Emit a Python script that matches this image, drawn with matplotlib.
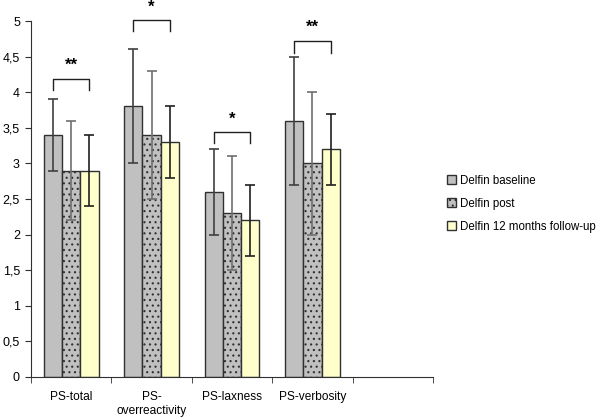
import matplotlib
matplotlib.use("Agg")
import matplotlib.pyplot as plt
import numpy as np
from matplotlib.ticker import FuncFormatter, MultipleLocator

categories = ["PS-total", "PS-\noverreactivity", "PS-laxness", "PS-verbosity", ""]
series = ["Delfin baseline", "Delfin post", "Delfin 12 months follow-up"]
baseline = [3.4, 3.8, 2.6, 3.6]
baseline_lo = [2.9, 3.0, 2.0, 2.7]
baseline_hi = [3.9, 4.6, 3.2, 4.5]
post = [2.9, 3.4, 2.3, 3.0]
post_lo = [2.2, 2.5, 1.5, 2.0]
post_hi = [3.6, 4.3, 3.1, 4.0]
follow = [2.9, 3.3, 2.2, 3.2]
follow_lo = [2.4, 2.8, 1.7, 2.7]
follow_hi = [3.4, 3.8, 2.7, 3.7]
sig_labels = ["**", "*", "*", "**"]
bracket_top = [4.19, 5.01, 3.44, 4.72]
bracket_end = [4.03, 4.86, 3.29, 4.55]

plt.rcParams['font.family'] = ['Liberation Sans', 'DejaVu Sans']
plt.rcParams['hatch.linewidth'] = 0.8

fig = plt.figure(figsize=(6, 4.2), dpi=100)
ax = fig.add_axes([0.0517, 0.1024, 0.67, 0.8476])

n = len(baseline)
x = np.arange(n)
w = 0.227
offs = [-w, 0, w]
vals = [baseline, post, follow]
los = [baseline_lo, post_lo, follow_lo]
his = [baseline_hi, post_hi, follow_hi]
fills = ["#c0c0c0", "#c0c0c0", "#ffffcc"]
hatches = [None, "...", None]
ecols = ["#404040", "#707070", "#202020"]
handles = []
for i in range(3):
    v = np.array(vals[i]); lo = np.array(los[i]); hi = np.array(his[i])
    b = ax.bar(x + offs[i], v, width=w, color=fills[i], edgecolor="#303030",
               linewidth=1.0, hatch=hatches[i], label=series[i], zorder=2)
    handles.append(b)
    ax.errorbar(x + offs[i], v, yerr=[v - lo, hi - v], fmt="none",
                ecolor=ecols[i], elinewidth=1.2, capsize=3.5, capthick=1.2, zorder=3)

for j in range(n):
    xl = x[j] - w
    xr = x[j] + w
    ax.plot([xl, xl, xr, xr], [bracket_end[j], bracket_top[j], bracket_top[j], bracket_end[j]],
            color="#202020", lw=1.0, clip_on=False, zorder=4)
    ax.text(x[j], bracket_top[j] + 0.08, sig_labels[j], ha="center", va="bottom",
            fontsize=12, fontweight="bold", clip_on=False)

ax.set_xlim(-0.5, len(categories) - 0.5)
ax.set_ylim(0, 5)
ax.yaxis.set_major_locator(MultipleLocator(0.5))
ax.yaxis.set_major_formatter(FuncFormatter(lambda v, p: ("%g" % v).replace(".", ",")))
ax.set_xticks(np.arange(len(categories)))
ax.set_xticklabels(categories, fontsize=8.6)
ax.set_xticks(np.arange(len(categories) + 1) - 0.5, minor=True)
ax.tick_params(axis="x", which="major", length=0, pad=10)
ax.tick_params(axis="x", which="minor", length=4, direction="out", color="#303030")
ax.tick_params(axis="y", length=4, direction="out", labelsize=9, pad=4, color="#303030")
for s in ["top", "right"]:
    ax.spines[s].set_visible(False)
for s in ["left", "bottom"]:
    ax.spines[s].set_color("#303030")

fig.legend(handles=handles, labels=series, loc="center left",
           bbox_to_anchor=(0.727, 0.515), frameon=False, fontsize=8.3,
           handlelength=0.8, handleheight=0.8, handletextpad=0.4, labelspacing=0.95)

fig.savefig("out.png", dpi=100)
